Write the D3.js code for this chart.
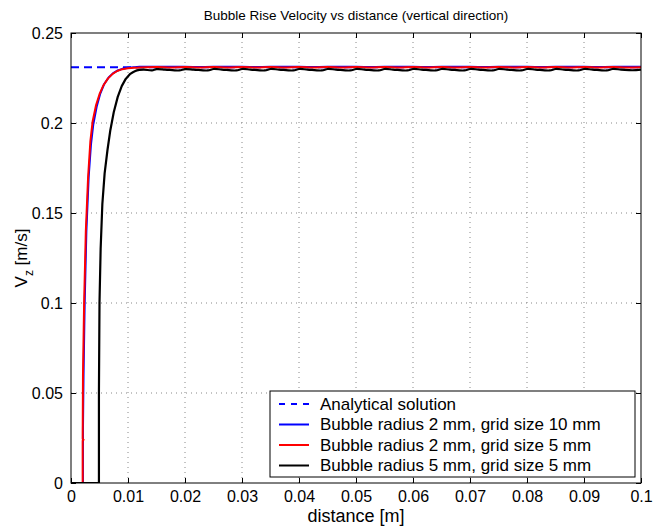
<!DOCTYPE html>
<html><head><meta charset="utf-8">
<script src="https://cdn.jsdelivr.net/npm/d3@7"></script>
<style>body{margin:0;background:#fff;} text{font-family:"Liberation Sans",Arial,sans-serif;}</style>
</head><body><svg id="c" width="653" height="528"></svg>
<script>
const xTicks = [0,0.01,0.02,0.03,0.04,0.05,0.06,0.07,0.08,0.09,0.1];
const xTickLabels = ["0","0.01","0.02","0.03","0.04","0.05","0.06","0.07","0.08","0.09","0.1"];
const yTicks = [0,0.05,0.1,0.15,0.2,0.25];
const yTickLabels = ["0","0.05","0.1","0.15","0.2","0.25"];
const analyticalV = 0.231;
const seriesNames = ["Analytical solution","Bubble radius 2 mm, grid size 10 mm","Bubble radius 2 mm, grid size 5 mm","Bubble radius 5 mm, grid size 5 mm"];

// rise part (drawn straight) and plateau part (drawn smooth) share one array each; plateau starts at x >= 0.01
const blueX = [0,0.0021,0.0021,0.0022,0.0024,0.0027,0.0031,0.0035,0.0039,0.0045,0.0051,0.0058,0.0066,0.0074,0.0082,0.009,0.01,0.011,0.012,0.0175,0.0225,0.0275,0.0325,0.0375,0.0425,0.0475,0.0525,0.0575,0.0625,0.0675,0.0725,0.0775,0.0825,0.0875,0.0925,0.0975,0.1];
const blueV = [0,0,0.03,0.06,0.1,0.14,0.17,0.188,0.199,0.209,0.216,0.2215,0.2253,0.2277,0.2292,0.2301,0.2307,0.231,0.2312,0.2313,0.2311,0.2313,0.2311,0.2313,0.2311,0.2313,0.2311,0.2313,0.2311,0.2313,0.2311,0.2313,0.2311,0.2313,0.2311,0.2313,0.2312];

const redX = [0,0.00205,0.00205,0.0022,0.00205,0.0021,0.0023,0.0026,0.003,0.0034,0.0038,0.0044,0.005,0.0057,0.0065,0.0073,0.0081,0.009,0.01,0.011,0.012,0.015,0.0175,0.02,0.0225,0.025,0.0275,0.03,0.0325,0.035,0.0375,0.04,0.0425,0.045,0.0475,0.05,0.0525,0.055,0.0575,0.06,0.0625,0.065,0.0675,0.07,0.0725,0.075,0.0775,0.08,0.0825,0.085,0.0875,0.09,0.0925,0.095,0.0975,0.1];
const redV = [0,0,0.0235,0.024,0.0245,0.06,0.1,0.14,0.17,0.19,0.201,0.21,0.216,0.221,0.2248,0.2273,0.2289,0.2299,0.2304,0.2307,0.2309,0.2311,0.2309,0.2311,0.2309,0.2311,0.2309,0.2311,0.2309,0.2311,0.2309,0.2311,0.2309,0.2311,0.2309,0.2311,0.2309,0.2311,0.2309,0.2311,0.2309,0.2311,0.2309,0.2311,0.2309,0.2311,0.2309,0.2311,0.2309,0.2311,0.2309,0.2311,0.2309,0.2311,0.2309,0.231];

const blackPts = [
 [0,0],[0.0049,0],[0.0049,0.05],[0.005,0.1],[0.0052,0.13],[0.0055,0.155],[0.0059,0.172],[0.0064,0.185],[0.0069,0.196],[0.0075,0.206],[0.0082,0.2145],[0.0089,0.2205],[0.0096,0.2245],[0.0104,0.2273],[0.0112,0.2288],[0.012,0.2295],[0.0128,0.2297],
 [0.0142,0.2292],[0.015,0.2299],[0.0165,0.2297],[0.019,0.2292],
 [0.02,0.2299],[0.0215,0.2297],[0.024,0.2292],
 [0.025,0.2300],[0.0265,0.2297],[0.029,0.2292],
 [0.03,0.2300],[0.0315,0.2297],[0.034,0.2292],
 [0.035,0.2300],[0.0365,0.2297],[0.039,0.2292],
 [0.04,0.2300],[0.0415,0.2297],[0.044,0.2292],
 [0.045,0.2300],[0.0465,0.2297],[0.049,0.2292],
 [0.05,0.2300],[0.0515,0.2297],[0.054,0.2292],
 [0.055,0.2300],[0.0565,0.2297],[0.059,0.2292],
 [0.06,0.2300],[0.0615,0.2297],[0.064,0.2292],
 [0.065,0.2300],[0.0665,0.2297],[0.069,0.2292],
 [0.07,0.2300],[0.0715,0.2297],[0.074,0.2292],
 [0.075,0.2300],[0.0765,0.2297],[0.079,0.2292],
 [0.08,0.2300],[0.0815,0.2297],[0.084,0.2292],
 [0.085,0.2300],[0.0865,0.2297],[0.089,0.2292],
 [0.09,0.2300],[0.0915,0.2297],[0.094,0.2292],
 [0.095,0.2300],[0.0965,0.2297],[0.0985,0.2293],[0.1,0.2297]
];

const L = 71, R = 641, T = 33, B = 483;
const svg = d3.select("#c");
const x = d3.scaleLinear().domain([0,0.1]).range([L,R]);
const y = d3.scaleLinear().domain([0,0.25]).range([B,T]);

// grid
const g = svg.append("g");
g.selectAll(".vg").data(xTicks.slice(1,-1)).enter().append("line")
 .attr("x1",d=>x(d)).attr("x2",d=>x(d)).attr("y1",B).attr("y2",T)
 .attr("stroke","#888").attr("stroke-width",1).attr("stroke-dasharray","1,4");
g.selectAll(".hg").data(yTicks.slice(1,-1)).enter().append("line")
 .attr("y1",d=>y(d)).attr("y2",d=>y(d)).attr("x1",L).attr("x2",R)
 .attr("stroke","#888").attr("stroke-width",1).attr("stroke-dasharray","1,4");

// axes
const fmtX = (d,i)=>xTickLabels[i];
const fmtY = (d,i)=>yTickLabels[i];
const ax = (axis,tr,labels)=>{
  const a = svg.append("g").attr("transform",tr).call(axis);
  a.select(".domain").remove();
  a.selectAll("line").attr("stroke","#000");
  a.selectAll("text").style("font-size","16px").attr("fill","#000");
  if(!labels) a.selectAll("text").remove();
  return a;
};
ax(d3.axisBottom(x).tickValues(xTicks).tickFormat(fmtX).tickSizeInner(-5).tickPadding(8),`translate(0,${B})`,true);
ax(d3.axisTop(x).tickValues(xTicks).tickSizeInner(-5),`translate(0,${T})`,false);
ax(d3.axisLeft(y).tickValues(yTicks).tickFormat(fmtY).tickSizeInner(-5).tickPadding(8),`translate(${L},0)`,true);
ax(d3.axisRight(y).tickValues(yTicks).tickSizeInner(-5),`translate(${R},0)`,false);

// lines
svg.append("clipPath").attr("id","cp").append("rect").attr("x",L).attr("y",T-3).attr("width",R-L).attr("height",B-T+3);
const line = d3.line().x(d=>x(d[0])).y(d=>y(d[1]));
const smooth = d3.line().x(d=>x(d[0])).y(d=>y(d[1])).curve(d3.curveCatmullRom.alpha(0.5));
const plot = svg.append("g").attr("clip-path","url(#cp)");
const drawSeries = (pts,color,w)=>{
  const k = pts.findIndex(p=>p[0]>=0.01);
  const d = line(pts.slice(0,k+1)) + smooth(pts.slice(k)).replace(/^M[^C]*/, "");
  plot.append("path").attr("d",d).attr("fill","none").attr("stroke",color).attr("stroke-width",w).attr("stroke-linejoin","round");
};
plot.append("path").attr("d",line([[0,analyticalV],[0.1,analyticalV]])).attr("fill","none").attr("stroke","#0000ff").attr("stroke-width",2).attr("stroke-dasharray","8,5");
drawSeries(blueX.map((v,i)=>[v,blueV[i]]),"#0000ff",2);
drawSeries(redX.map((v,i)=>[v,redV[i]]),"#ff0000",2);
drawSeries(blackPts,"#000",2.2);

// box
svg.append("rect").attr("x",L).attr("y",T).attr("width",R-L).attr("height",B-T).attr("fill","none").attr("stroke","#000").attr("stroke-width",1);

// title and labels
svg.append("text").attr("x",(L+R)/2).attr("y",20).attr("text-anchor","middle").style("font-size","13.5px").text("Bubble Rise Velocity vs distance (vertical direction)");
svg.append("text").attr("x",(L+R)/2).attr("y",522).attr("text-anchor","middle").style("font-size","18px").text("distance [m]");
const yl = svg.append("text").attr("transform",`translate(27,${(T+B)/2}) rotate(-90)`).attr("text-anchor","middle").style("font-size","17px");
yl.append("tspan").text("V");
yl.append("tspan").attr("dy",6).style("font-size","12px").text("z");
yl.append("tspan").attr("dy",-6).text(" [m/s]");

// legend
const lg = svg.append("g");
lg.append("rect").attr("x",270).attr("y",391).attr("width",365).attr("height",86).attr("fill","#fff").attr("stroke","#000").attr("stroke-width",1);
const colors = ["#0000ff","#0000ff","#ff0000","#000"];
const dashes = ["6,6",null,null,null];
seriesNames.forEach((n,i)=>{
  const cy = 404 + i*20.5;
  lg.append("line").attr("x1",279).attr("x2",309).attr("y1",cy).attr("y2",cy).attr("stroke",colors[i]).attr("stroke-width",2).attr("stroke-dasharray",dashes[i]);
  lg.append("text").attr("x",320).attr("y",cy).attr("dy","0.35em").style("font-size","17px").text(n);
});
</script></body></html>
